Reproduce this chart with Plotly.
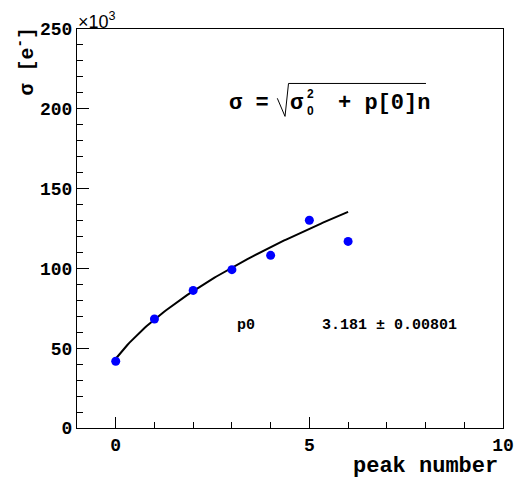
import numpy as np
import plotly.graph_objects as go

# ---- data (values in units of 10^3 electrons) ----
peak_number = [0, 1, 2, 3, 4, 5, 6]
sigma_e = [41.8, 68.3, 86.2, 99.2, 108.2, 130.2, 116.9]

# fit function sigma = sqrt(sigma0^2 + p0*n) parameters
fit_sigma0 = 43.4
fit_p0 = 2741.0
fit_range = [0, 6]

x_ticks = [0, 5, 10]
y_ticks = [0, 50, 100, 150, 200, 250]

FONT = "Liberation Mono"

# page offset caused by the default body margin of the html page
OFF = 8
W, H = 526 - OFF, 481 - OFF
# frame in page pixels (for placing text)
L, R, T, B = 77, 503, 23, 428
def px(x):
    return (x - L) / (R - L)
def py(y):
    return (B - y) / (B - T)

xf = np.linspace(fit_range[0], fit_range[1], 121)
yf = np.sqrt(fit_sigma0 ** 2 + fit_p0 * xf)

fig = go.Figure()
fig.add_trace(go.Scatter(x=xf, y=yf, mode="lines",
                         line=dict(color="black", width=2), hoverinfo="skip"))
fig.add_trace(go.Scatter(x=peak_number, y=sigma_e, mode="markers",
                         marker=dict(color="#0000ff", size=9)))

axis_common = dict(showline=True, linecolor="black", linewidth=1, mirror=True,
                   ticks="inside", tickcolor="black", showgrid=False, zeroline=False,
                   tickfont=dict(family=FONT, size=18, color="black", weight="bold"))

fig.update_xaxes(range=[-1, 10], tickvals=x_ticks, ticktext=[str(v) for v in x_ticks],
                 ticklen=11, tickwidth=1,
                 minor=dict(dtick=1, tick0=0, ticks="inside", ticklen=6, tickcolor="black", showgrid=False),
                 **axis_common)
fig.update_yaxes(range=[0, 250], tickvals=y_ticks, ticktext=[str(v) for v in y_ticks],
                 ticklen=12, tickwidth=1,
                 minor=dict(dtick=10, tick0=0, ticks="inside", ticklen=6, tickcolor="black", showgrid=False),
                 **axis_common)

ann = []
bold = dict(family=FONT, color="black", weight="bold")
# axis titles
ann.append(dict(text="peak number", x=px(500), y=py(467), xanchor="right", yanchor="middle",
                font=dict(size=22, **bold)))
ann.append(dict(text="σ [e<sup>-</sup>]", x=px(25), y=py(56), textangle=-90, xanchor="center",
                yanchor="middle", font=dict(size=20, **bold)))
ann.append(dict(text="×10<sup>3</sup>", x=px(76), y=py(14), xanchor="left", yanchor="middle",
                font=dict(size=18, family="Liberation Sans", color="black")))
# formula
ann.append(dict(text="σ =", x=px(227), y=py(99), xanchor="left", yanchor="middle",
                font=dict(size=22, **bold)))
ann.append(dict(text="σ", x=px(288), y=py(99), xanchor="left", yanchor="middle",
                font=dict(size=22, **bold)))
ann.append(dict(text="2", x=px(310), y=py(89), xanchor="center", yanchor="middle",
                font=dict(size=12, family="Liberation Sans", color="black", weight="bold")))
ann.append(dict(text="0", x=px(310), y=py(106), xanchor="center", yanchor="middle",
                font=dict(size=12, family="Liberation Sans", color="black", weight="bold")))
ann.append(dict(text="+ p[0]n", x=px(336), y=py(99), xanchor="left", yanchor="middle",
                font=dict(size=22, **bold)))
# fit stats
ann.append(dict(text="p0", x=px(235), y=py(324), xanchor="left", yanchor="middle",
                font=dict(size=15, **bold)))
ann.append(dict(text="3.181 ± 0.00801", x=px(320), y=py(324), xanchor="left", yanchor="middle",
                font=dict(size=15, **bold)))
for a in ann:
    a.update(xref="paper", yref="paper", showarrow=False)

radical = "M {:.4f},{:.4f} L {:.4f},{:.4f} L {:.4f},{:.4f} L {:.4f},{:.4f}".format(
    px(277.3), py(93.3), px(285), py(111.7), px(288.5), py(78.3), px(426), py(78.3))

fig.update_layout(
    width=W, height=H,
    margin=dict(l=L - OFF, r=W - (R - OFF), t=T - OFF, b=H - (B - OFF)),
    paper_bgcolor="white", plot_bgcolor="white",
    showlegend=False,
    annotations=ann,
    shapes=[dict(type="path", path=radical, xref="paper", yref="paper",
                 line=dict(color="black", width=1))],
)

fig.write_html("out.html")
